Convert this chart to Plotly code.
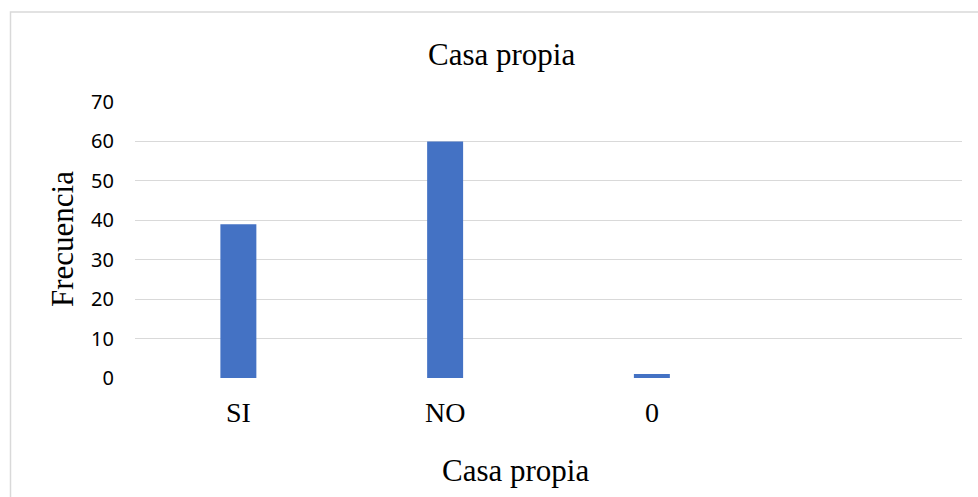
import plotly.graph_objects as go

categories = ["SI", "NO", "0"]
values = [39, 60, 1]
y_ticks = [0, 10, 20, 30, 40, 50, 60, 70]

L, R, T, B = 135, 16, 102, 119
W, H = 978, 497
pw = W - L - R
ph = H - T - B

def px_x(px):
    return (px - L) / pw

def px_y(py):
    return (H - B - py) / ph

serif = "Liberation Serif"

fig = go.Figure(go.Bar(
    x=categories, y=values, marker_color="#4472C4", width=0.174,
    marker_line_width=0,
))

fig.update_layout(
    width=W, height=H,
    margin=dict(l=L, r=R, t=T, b=B),
    paper_bgcolor="white", plot_bgcolor="white",
    showlegend=False,
    xaxis=dict(type="category", categoryorder="array", categoryarray=categories,
               range=[-0.5, 3.5], showgrid=False, zeroline=False, showline=False,
               ticks="", ticklabelstandoff=15,
               tickfont=dict(family=serif, size=28, color="#000000")),
    yaxis=dict(range=[0, 70], tickvals=y_ticks, showgrid=True, gridcolor="#d9d9d9",
               gridwidth=1.3, zeroline=False, showline=False, ticks="",
               ticklabelstandoff=20,
               tickfont=dict(family="Noto Sans", size=20, color="#000000")),
    annotations=[
        dict(text="Casa propia", xref="paper", yref="paper", x=px_x(501), y=px_y(55),
             xanchor="center", yanchor="middle", showarrow=False,
             font=dict(family=serif, size=31, color="#000000")),
        dict(text="Casa propia", xref="paper", yref="paper", x=px_x(515), y=px_y(470),
             xanchor="center", yanchor="middle", showarrow=False,
             font=dict(family=serif, size=31, color="#000000")),
        dict(text="Frecuencia", xref="paper", yref="paper", x=px_x(62), y=px_y(239),
             xanchor="center", yanchor="middle", showarrow=False, textangle=-90,
             font=dict(family=serif, size=31, color="#000000")),
    ],
    shapes=[dict(type="rect", xref="paper", yref="paper",
                 x0=px_x(10.5), x1=px_x(1000), y0=px_y(520), y1=px_y(12),
                 line=dict(color="#d9d9d9", width=1.5), fillcolor="rgba(0,0,0,0)",
                 layer="below")],
)

fig.write_html("out.html")
